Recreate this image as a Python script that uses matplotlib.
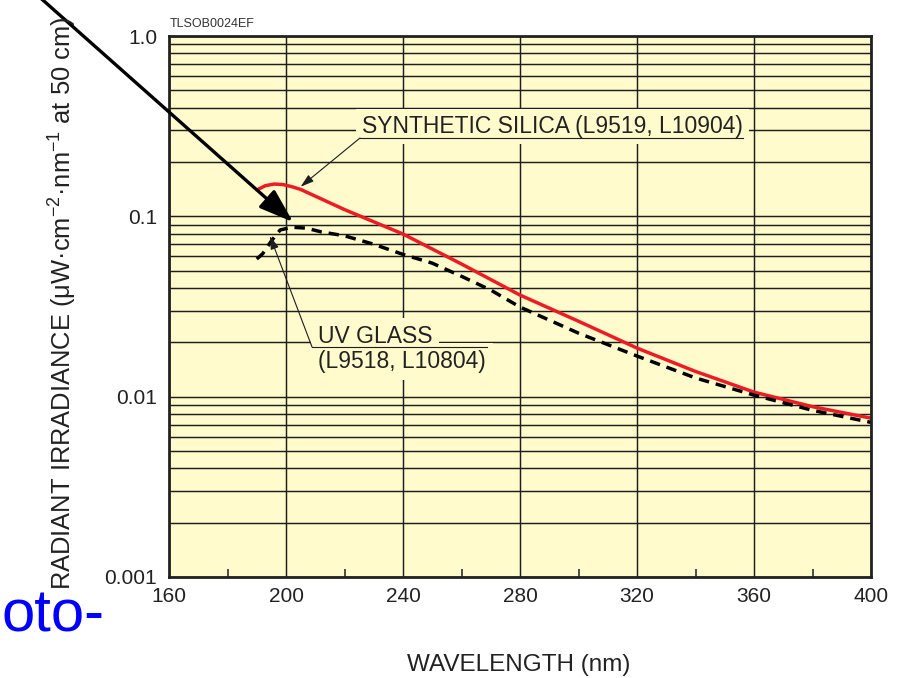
import matplotlib
matplotlib.use("Agg")
import matplotlib.pyplot as plt
from matplotlib.ticker import FixedLocator, LogLocator, NullFormatter

plt.rcParams["font.family"] = ["Liberation Sans", "DejaVu Sans"]
plt.rcParams["mathtext.fontset"] = "custom"
plt.rcParams["mathtext.rm"] = "Liberation Sans"
plt.rcParams["mathtext.it"] = "Liberation Sans:italic"

# Synthetic silica window (solid red)
silica_wl = [190, 193, 196, 199, 202, 205, 220, 240, 260, 280, 300, 320, 340, 360, 380, 400]
silica_val = [0.140, 0.148, 0.151, 0.150, 0.146, 0.141, 0.109, 0.0798, 0.0544, 0.0366,
              0.0262, 0.0186, 0.0138, 0.0106, 0.0088, 0.0076]

# UV glass window (dashed black)
uv_wl = [190, 192, 195, 198, 202, 207, 212, 220, 230, 240, 250, 260, 270, 280,
         300, 320, 340, 360, 380, 400]
uv_val = [0.058, 0.062, 0.073, 0.084, 0.087, 0.086, 0.082, 0.078, 0.070, 0.0615,
          0.055, 0.0465, 0.039, 0.0314, 0.0225, 0.0168, 0.0127, 0.0102, 0.0084, 0.0072]

x_ticks = [160, 200, 240, 280, 320, 360, 400]
x_minor = [180, 220, 260, 300, 340, 380]
y_ticks = [0.001, 0.01, 0.1, 1.0]
y_ticklabels = ["0.001", "0.01", "0.1", "1.0"]

bg = "#fffbcc"
ink = "#1e1e1e"

fig = plt.figure(figsize=(8.97, 6.78), dpi=100)
ax = fig.add_axes([169 / 897, 1 - 577 / 678, 702 / 897, 541 / 678])
ax.set_facecolor(bg)
ax.set_yscale("log")
ax.set_xlim(160, 400)
ax.set_ylim(0.001, 1.0)

ax.set_xticks(x_ticks)
ax.set_xticklabels([str(t) for t in x_ticks])
ax.xaxis.set_minor_locator(FixedLocator(x_minor))
ax.set_yticks(y_ticks)
ax.set_yticklabels(y_ticklabels)
ax.yaxis.set_minor_locator(LogLocator(base=10, subs=range(2, 10)))
ax.yaxis.set_minor_formatter(NullFormatter())

ax.tick_params(axis="both", which="major", length=0, labelsize=15, labelcolor="#222222")
ax.tick_params(axis="x", which="major", pad=7.5)
ax.tick_params(axis="y", which="major", pad=8.5)
ax.tick_params(axis="x", which="minor", direction="in", length=6, width=1.1, color=ink)
ax.tick_params(axis="y", which="minor", length=0)

ax.set_axisbelow(True)
ax.grid(True, axis="y", which="both", color=ink, lw=1.05)
ax.grid(True, axis="x", which="major", color=ink, lw=1.05)
for sp in ax.spines.values():
    sp.set_linewidth(2.0)
    sp.set_color("#222222")

ax.plot(silica_wl, silica_val, color="#ed1c24", lw=2.5, zorder=2, solid_capstyle="butt")
ax.plot(uv_wl, uv_val, color="black", lw=2.5, ls=(0, (3.0, 2.0)), zorder=2)

# annotation: synthetic silica
ax.text(226.0, 0.290, "SYNTHETIC SILICA (L9519, L10904)", fontsize=16.5, color="#222222",
        ha="left", va="baseline", zorder=3,
        bbox=dict(boxstyle="square,pad=0.28", fc=bg, ec="none"))
ax.plot([225.3, 356.2], [0.2719, 0.2719], color=ink, lw=0.8, zorder=4)
ax.annotate("", xy=(205, 0.146), xytext=(225.3, 0.2719),
            arrowprops=dict(arrowstyle="-|>,head_length=0.8,head_width=0.25",
                            mutation_scale=10, color=ink, lw=0.8, shrinkA=0, shrinkB=0),
            zorder=4)

# annotation: UV glass
ax.text(210.9, 0.01985, "UV GLASS", fontsize=16.5, color="#222222", ha="left",
        va="baseline", zorder=3, bbox=dict(boxstyle="square,pad=0.3", fc=bg, ec="none"))
ax.text(210.9, 0.01443, "(L9518, L10804)", fontsize=16.5, color="#222222", ha="left",
        va="baseline", zorder=3, bbox=dict(boxstyle="square,pad=0.3", fc=bg, ec="none"))
ax.plot([208.9, 268.7], [0.01886, 0.01886], color=ink, lw=0.8, zorder=4)
ax.annotate("", xy=(194.5, 0.0778), xytext=(208.9, 0.01886),
            arrowprops=dict(arrowstyle="-|>,head_length=0.8,head_width=0.25",
                            mutation_scale=10, color=ink, lw=0.8, shrinkA=0, shrinkB=0),
            zorder=4)

# big black arrow coming from outside the chart
ax.annotate("", xy=(202.4, 0.093), xytext=(0.0201, 1.0324), textcoords="figure fraction",
            arrowprops=dict(arrowstyle="-|>,head_length=1.05,head_width=0.36",
                            mutation_scale=20, color="black", lw=2.4, shrinkA=0, shrinkB=0),
            annotation_clip=False, zorder=10)

fig.text(170 / 897, 1 - 24 / 678, "TLSOB0024EF", fontsize=9, color="#333333",
         ha="left", va="center")
fig.text(63 / 897, 1 - 303 / 678,
         "RADIANT IRRADIANCE (μW·cm$^{-2}$·nm$^{-1}$ at 50 cm)",
         rotation=90, fontsize=18.4, color="#222222", ha="center", va="center")
fig.text(519 / 897, 1 - 665 / 678, "WAVELENGTH (nm)", fontsize=17.5, color="#222222",
         ha="center", va="center")
fig.text(1 / 897, 1 - 631 / 678, "oto-", fontsize=43, color="#0000ff",
         family=["Liberation Sans Narrow", "Liberation Sans"], ha="left", va="baseline")

fig.savefig("out.png", dpi=100, facecolor="white")
